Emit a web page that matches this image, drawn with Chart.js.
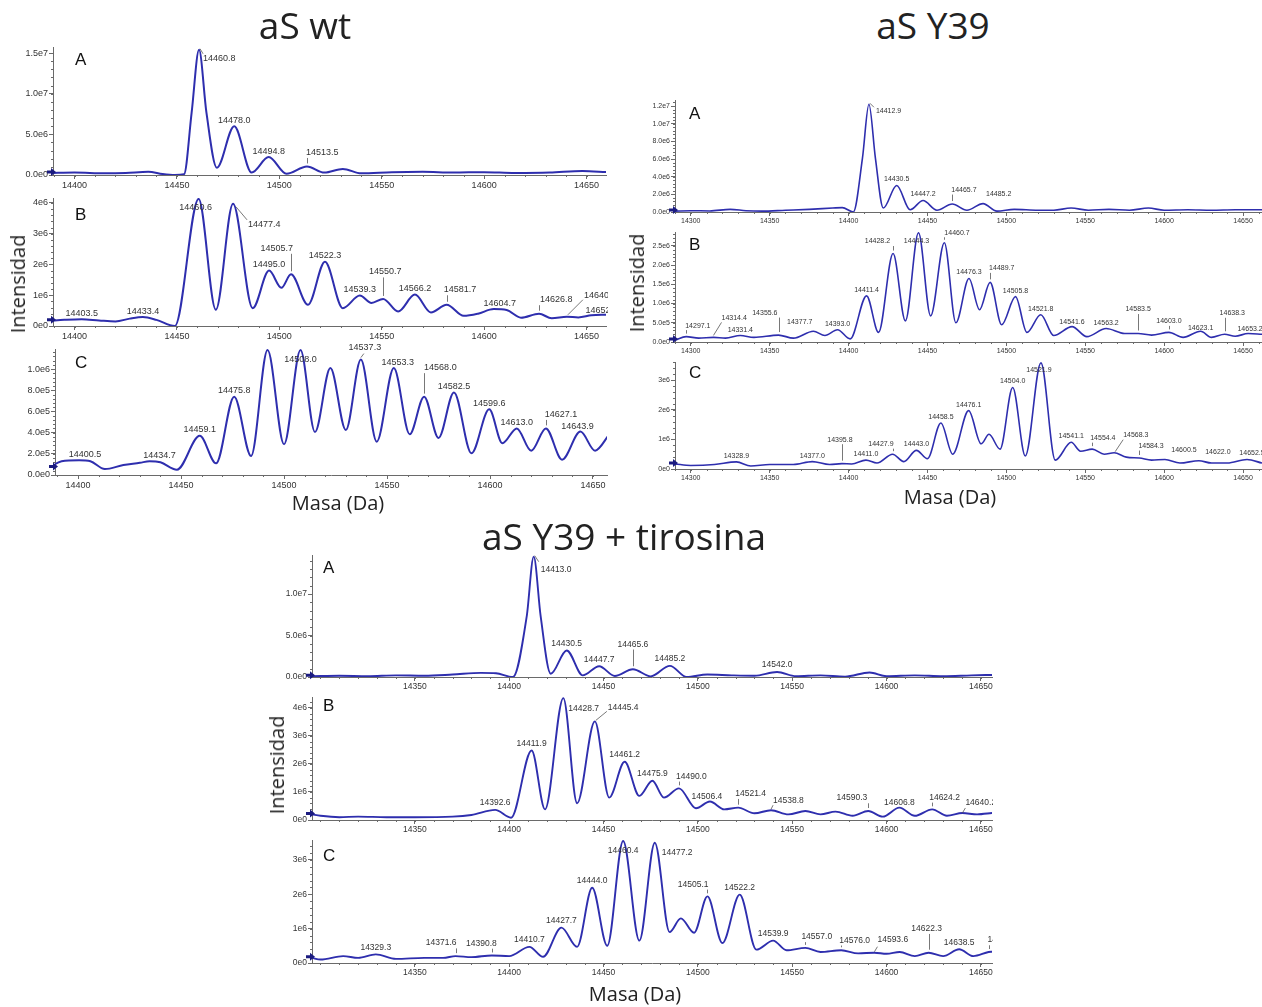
<!DOCTYPE html>
<html>
<head>
<meta charset="utf-8">
<script src="https://cdn.jsdelivr.net/npm/chart.js@4.4.1/dist/chart.umd.min.js"></script>
<style>
  body { margin: 0; background: #fff; width: 1262px; height: 1007px; position: relative; overflow: hidden; font-family: "Open Sans", sans-serif; }
  canvas { position: absolute; }
  .t { position: absolute; color: #222; white-space: nowrap; line-height: 1; transform: translate(-50%, -50%); }
  .title { font-size: 37px; }
  .ax { font-size: 20px; }
  .rot { transform: translate(-50%, -50%) rotate(-90deg); }
</style>
</head>
<body>
<div id="wrap"></div>
<div class="t title" style="left:305px;top:24px">aS wt</div>
<div class="t title" style="left:933px;top:24px">aS Y39</div>
<div class="t title" style="left:624px;top:535px">aS Y39 + tirosina</div>
<div class="t ax" style="left:338px;top:503px">Masa (Da)</div>
<div class="t ax" style="left:950px;top:497px">Masa (Da)</div>
<div class="t ax" style="left:635px;top:994px">Masa (Da)</div>
<div class="t ax rot" style="left:18px;top:284px">Intensidad</div>
<div class="t ax rot" style="left:637px;top:283px">Intensidad</div>
<div class="t ax rot" style="left:277px;top:765px">Intensidad</div>
<script>
// intensities in units of 1e6 counts, masses in Da

// ---- aS wt ----
const wtA_mass = [14388, 14400, 14415, 14425, 14436, 14443, 14449, 14453.5, 14457.2, 14460.8, 14464.4, 14469.5, 14478.0, 14486.5, 14494.8, 14503.5, 14513.5, 14522, 14531, 14540, 14555, 14570, 14585, 14600, 14615, 14632, 14648, 14660];
const wtA_int  = [0.25, 0.3, 0.2, 0.25, 0.4, 0.12, 0.0, 0.1, 7.7, 15.4, 7.7, 0.9, 6.0, 0.3, 2.2, 0.15, 1.05, 0.3, 0.75, 0.2, 0.35, 0.4, 0.3, 0.35, 0.25, 0.3, 0.5, 0.35];
const wtA_peaks = [14460.8, 14478.0, 14494.8, 14513.5];

const wtB_mass = [14388, 14395, 14403.5, 14412, 14420, 14427, 14433.4, 14440, 14449, 14460.6, 14469, 14477.4, 14487, 14495.0, 14501, 14505.7, 14514, 14522.3, 14531, 14539.3, 14545, 14550.7, 14558, 14566.2, 14574, 14581.7, 14590, 14597, 14604.7, 14611, 14618, 14626.8, 14633, 14640.4, 14646, 14652.4, 14660];
const wtB_int  = [0.17, 0.2, 0.22, 0.18, 0.15, 0.24, 0.29, 0.2, 0.0, 4.13, 0.53, 3.97, 0.58, 1.8, 1.24, 1.68, 0.69, 2.09, 0.58, 0.99, 0.75, 0.88, 0.47, 1.02, 0.44, 0.69, 0.33, 0.4, 0.55, 0.52, 0.27, 0.4, 0.25, 0.3, 0.28, 0.35, 0.37];
const wtB_peaks = [14403.5, 14433.4, 14460.6, 14477.4, 14495.0, 14505.7, 14522.3, 14539.3, 14550.7, 14566.2, 14581.7, 14604.7, 14626.8, 14640.4, 14652.4];

const wtC_mass = [14386, 14392, 14400.5, 14406, 14413, 14422, 14430, 14434.7, 14440, 14448, 14459.1, 14467, 14475.8, 14484, 14492, 14500, 14508.0, 14515, 14522.5, 14530, 14537.3, 14545, 14553.3, 14561, 14568.0, 14575, 14582.5, 14591, 14599.6, 14606, 14613.0, 14620, 14627.1, 14635, 14643.9, 14651, 14658];
const wtC_int  = [0.072, 0.13, 0.14, 0.13, 0.056, 0.094, 0.115, 0.13, 0.12, 0.05, 0.37, 0.11, 0.74, 0.18, 1.18, 0.29, 1.18, 0.406, 1.01, 0.425, 1.09, 0.315, 1.01, 0.385, 0.74, 0.35, 0.78, 0.205, 0.62, 0.30, 0.44, 0.23, 0.44, 0.145, 0.41, 0.23, 0.385];
const wtC_peaks = [14400.5, 14434.7, 14459.1, 14475.8, 14508.0, 14537.3, 14553.3, 14568.0, 14582.5, 14599.6, 14613.0, 14627.1, 14643.9];

// ---- aS Y39 ----
const y39A_mass = [14290, 14300, 14312, 14325, 14335, 14345, 14360, 14375, 14390, 14396, 14403, 14408.8, 14412.9, 14417, 14422, 14430.5, 14439, 14447.2, 14456, 14465.7, 14475, 14485.2, 14494, 14505, 14520, 14530, 14541, 14552, 14565, 14578, 14590, 14600, 14615, 14630, 14645, 14662];
const y39A_int  = [0.1, 0.15, 0.12, 0.3, 0.15, 0.1, 0.2, 0.3, 0.45, 0.5, 0.0, 6.1, 12.2, 6.1, 0.45, 3.0, 0.25, 1.3, 0.2, 0.9, 0.2, 0.95, 0.1, 0.3, 0.2, 0.2, 0.45, 0.2, 0.3, 0.2, 0.45, 0.2, 0.25, 0.2, 0.25, 0.25];
const y39A_peaks = [14412.9, 14430.5, 14447.2, 14465.7, 14485.2];

const y39B_mass = [14290, 14297.1, 14305, 14314.4, 14322, 14331.4, 14340, 14355.6, 14365, 14377.7, 14385, 14393.0, 14401, 14411.4, 14419, 14428.2, 14436, 14444.3, 14452, 14460.7, 14468, 14476.3, 14483, 14489.7, 14497, 14505.8, 14513, 14521.8, 14530, 14541.6, 14551, 14563.2, 14575, 14583.5, 14592, 14603.0, 14612, 14623.1, 14630, 14638.3, 14645, 14653.2, 14662];
const y39B_int  = [0.05, 0.14, 0.1, 0.12, 0.1, 0.17, 0.12, 0.18, 0.1, 0.28, 0.17, 0.32, 0.08, 1.2, 0.25, 2.3, 0.55, 2.84, 0.68, 2.58, 0.5, 1.65, 0.84, 1.55, 0.45, 1.18, 0.25, 0.71, 0.17, 0.4, 0.14, 0.35, 0.22, 0.22, 0.18, 0.25, 0.12, 0.28, 0.12, 0.2, 0.15, 0.22, 0.2];
const y39B_peaks = [14297.1, 14314.4, 14331.4, 14355.6, 14377.7, 14393.0, 14411.4, 14428.2, 14444.3, 14460.7, 14476.3, 14489.7, 14505.8, 14521.8, 14541.6, 14563.2, 14583.5, 14603.0, 14623.1, 14638.3, 14653.2];

const y39C_mass = [14290, 14300, 14315, 14328.9, 14338, 14350, 14365, 14377.0, 14388, 14395.8, 14402, 14411.0, 14418, 14427.9, 14435, 14443.0, 14450, 14458.5, 14466, 14476.1, 14484, 14489, 14496, 14504.0, 14512, 14521.9, 14531, 14541.1, 14547, 14554.4, 14562, 14568.3, 14576, 14584.3, 14592, 14600.5, 14610, 14622.0, 14630, 14640, 14652.5, 14662];
const y39C_int  = [0.17, 0.12, 0.15, 0.24, 0.1, 0.15, 0.15, 0.25, 0.15, 0.18, 0.17, 0.3, 0.2, 0.5, 0.25, 0.63, 0.35, 1.55, 0.5, 1.97, 0.85, 1.17, 0.67, 2.75, 0.44, 3.58, 0.3, 0.9, 0.6, 0.67, 0.5, 0.55, 0.4, 0.37, 0.3, 0.32, 0.2, 0.28, 0.2, 0.2, 0.32, 0.2];
const y39C_peaks = [14328.9, 14377.0, 14395.8, 14411.0, 14427.9, 14443.0, 14458.5, 14476.1, 14504.0, 14521.9, 14541.1, 14554.4, 14568.3, 14584.3, 14600.5, 14622.0, 14652.5];

// ---- aS Y39 + tirosina ----
const tirA_mass = [14295.5, 14310, 14325, 14340, 14355, 14370, 14385, 14393, 14402, 14409.3, 14413.0, 14416.7, 14422, 14430.5, 14439, 14447.7, 14456, 14465.6, 14475, 14485.2, 14494, 14505, 14518, 14530, 14542.0, 14552, 14565, 14578, 14591, 14600, 14615, 14630, 14645, 14656];
const tirA_int  = [0.1, 0.15, 0.1, 0.2, 0.15, 0.3, 0.5, 0.45, 0.0, 7.3, 14.5, 7.3, 0.4, 3.2, 0.2, 1.3, 0.12, 0.93, 0.08, 1.34, 0.0, 0.3, 0.2, 0.15, 0.6, 0.1, 0.2, 0.05, 0.55, 0.1, 0.2, 0.1, 0.2, 0.25];
const tirA_peaks = [14413.0, 14430.5, 14447.7, 14465.6, 14485.2, 14542.0];

const tirB_mass = [14295.5, 14300, 14310, 14320, 14335, 14350, 14370, 14380, 14392.6, 14401, 14411.9, 14419, 14428.7, 14436, 14445.4, 14453, 14461.2, 14469, 14475.9, 14482, 14490.0, 14499, 14506.4, 14514, 14521.4, 14530, 14538.8, 14548, 14557, 14565, 14573, 14582, 14590.3, 14598, 14606.8, 14615, 14624.2, 14632, 14640.2, 14648, 14656];
const tirB_int  = [0.2, 0.15, 0.1, 0.12, 0.1, 0.1, 0.12, 0.18, 0.36, 0.08, 2.48, 0.38, 4.35, 0.6, 3.52, 0.8, 2.08, 0.86, 1.4, 0.8, 1.13, 0.42, 0.66, 0.38, 0.44, 0.24, 0.35, 0.2, 0.32, 0.2, 0.3, 0.15, 0.32, 0.12, 0.44, 0.15, 0.38, 0.15, 0.25, 0.2, 0.25];
const tirB_peaks = [14392.6, 14411.9, 14428.7, 14445.4, 14461.2, 14475.9, 14490.0, 14506.4, 14521.4, 14538.8, 14590.3, 14606.8, 14624.2, 14640.2];

const tirC_mass = [14295.5, 14300, 14312, 14320, 14329.3, 14340, 14355, 14365, 14371.6, 14380, 14390.8, 14400, 14410.7, 14418, 14427.7, 14436, 14444.0, 14452, 14460.4, 14469, 14477.2, 14485, 14491, 14498, 14505.1, 14513, 14522.2, 14531, 14539.9, 14547, 14557.0, 14565, 14576.0, 14585, 14593.6, 14600, 14607, 14615, 14622.3, 14630, 14638.5, 14646, 14654.1, 14656];
const tirC_int  = [0.15, 0.1, 0.2, 0.15, 0.25, 0.12, 0.15, 0.15, 0.2, 0.17, 0.22, 0.2, 0.47, 0.18, 1.03, 0.47, 2.19, 0.5, 3.55, 0.65, 3.5, 0.9, 1.3, 0.88, 1.94, 0.58, 1.99, 0.39, 0.65, 0.37, 0.44, 0.32, 0.37, 0.28, 0.3, 0.27, 0.32, 0.2, 0.3, 0.2, 0.4, 0.2, 0.32, 0.33];
const tirC_peaks = [14329.3, 14371.6, 14390.8, 14410.7, 14427.7, 14444.0, 14460.4, 14477.2, 14505.1, 14522.2, 14539.9, 14557.0, 14576.0, 14593.6, 14622.3, 14638.5, 14654.1];

// label placement: [dx, dy, align, leader]; leader 'v' = vertical tick, array = slanted line
const wtA_nudge = { 14460.8: [4, 9, 'left', [1, -1, 4, 4]], 14513.5: [-1, -14, 'left', 'v'] };
const wtB_nudge = {
  14460.6: [-3, 9, 'center'], 14477.4: [15, 21, 'left', [3, 3, 14, 16]],
  14505.7: [2, -26, 'right', 'v'], 14550.7: [2, -27, 'center', 'v'],
  14581.7: [-3, -15, 'left', 'v'], 14604.7: [6, -6, 'center'], 14626.8: [1, -14, 'left', 'v'],
  14640.4: [17, -21, 'left', [1, -2, 16, -17]], 14652.4: [-6, -5, 'left']
};
const wtC_nudge = {
  14400.5: [6, -6, 'center'], 14434.7: [10, -6, 'center'],
  14508.0: [0, 9, 'center'], 14537.3: [4, -12, 'center', [0, -2, 3, -6]],
  14553.3: [4, -6, 'center'], 14568.0: [0, -29, 'left', 'v'], 14627.1: [-1, -14, 'left', 'v'],
  14643.9: [-3, -5, 'center']
};
const y39A_nudge = { 14412.9: [7, 7, 'left', [1, -1, 5, 3]], 14465.7: [-1, -14, 'left', 'v'], 14485.2: [3, -10, 'left'] };
const y39B_nudge = {
  14297.1: [-1, -11, 'left', 'v'], 14314.4: [8, -19, 'left', [0, -2, 8, -15]], 14331.4: [0, -5, 'center'],
  14355.6: [-1, -22, 'right', 'v'], 14377.7: [-1, -9, 'right'], 14428.2: [-3, -12, 'right', 'v'],
  14444.3: [-2, 8, 'center'], 14460.7: [0, -10, 'left', 'v'], 14489.7: [-1, -14, 'left', 'v'],
  14541.6: [0, -5, 'center'], 14563.2: [0, -5, 'center'], 14583.5: [0, -24, 'center', 'v'],
  14603.0: [0, -11, 'center', 'v'], 14623.1: [0, -3, 'center'], 14638.3: [-5, -21, 'left', 'v'], 14653.2: [2, -4, 'center']
};
const y39C_nudge = {
  14395.8: [-2, -24, 'center', 'v'], 14427.9: [1, -10, 'right', 'v'], 14521.9: [-2, 7, 'center'],
  14554.4: [-2, -11, 'left', 'v'], 14568.3: [9, -18, 'left', [1, -1, 9, -13]], 14584.3: [-1, -12, 'left', 'v'],
  14600.5: [19, -9, 'center'], 14622.0: [19, -9, 'center'], 14652.5: [5, -6, 'center']
};
const tirA_nudge = { 14413.0: [7, 13, 'left', [1, -1, 5, 5]], 14465.6: [0, -25, 'center', 'v'] };
const tirB_nudge = {
  14428.7: [5, 11, 'left'], 14445.4: [13, -14, 'left', [1, -1, 12, -10]], 14490.0: [-3, -12, 'left', 'v'],
  14506.4: [-3, -5, 'center'], 14521.4: [-3, -14, 'left', 'v'], 14538.8: [2, -10, 'left', [0, -1, 2, -5]],
  14590.3: [-1, -13, 'right', 'v'], 14606.8: [0, -5, 'center'], 14624.2: [-3, -12, 'left', 'v'],
  14640.2: [3, -10, 'left', [0, 0, 3, -5]]
};
const tirC_nudge = {
  14371.6: [1, -13, 'right', 'v'], 14390.8: [5, -12, 'right', 'v'], 14460.4: [0, 10, 'center'],
  14477.2: [7, 10, 'left'], 14505.1: [1, -12, 'right', 'v'], 14557.0: [-4, -11, 'left', 'v'],
  14576.0: [-2, -10, 'left', 'v'], 14593.6: [3, -13, 'left', [0, -1, 3, -6]], 14622.3: [-2, -24, 'center', 'v'],
  14654.1: [-1, -12, 'left', 'v']
};

const LINE = '#2e2eae';
const AXIS = '#6a6a6a';
const TEXT = '#333';
const PT = 26, XH = 18;

const G1 = { fs: 9, lw: 2, yw: 50, pr: 2, dy: -6 };
const G2 = { fs: 7, lw: 1.6, yw: 45, pr: 0, dy: -6 };
const G3 = { fs: 8.5, lw: 1.9, yw: 45, pr: 1, dy: -7 };

const panels = [
  { m: wtA_mass, v: wtA_int, pk: wtA_peaks, nd: wtA_nudge, box: [53, 47, 606, 175], x: [14389.5, 14659.5], yMax: 15.74, step: 5, dec: 1, g: G1, tag: 'A', tp: [22, 13] },
  { m: wtB_mass, v: wtB_int, pk: wtB_peaks, nd: wtB_nudge, box: [53, 198, 606, 326], x: [14389.5, 14659.5], yMax: 4.16, step: 1, dec: 0, g: G1, tag: 'B', tp: [22, 17] },
  { m: wtC_mass, v: wtC_int, pk: wtC_peaks, nd: wtC_nudge, box: [55, 349, 607, 475], x: [14388.8, 14656.8], yMax: 1.19, step: 0.2, dec: 1, g: G1, tag: 'C', tp: [20, 14] },
  { m: y39A_mass, v: y39A_int, pk: y39A_peaks, nd: y39A_nudge, box: [675, 100, 1262, 212], x: [14290, 14662], yMax: 12.68, step: 2, dec: 1, g: G2, tag: 'A', tp: [14, 14] },
  { m: y39B_mass, v: y39B_int, pk: y39B_peaks, nd: y39B_nudge, box: [675, 232, 1262, 342], x: [14290, 14662], yMax: 2.86, step: 0.5, dec: 1, g: G2, tag: 'B', tp: [14, 13] },
  { m: y39C_mass, v: y39C_int, pk: y39C_peaks, nd: y39C_nudge, box: [675, 362, 1262, 469], x: [14290, 14662], yMax: 3.61, step: 1, dec: 0, g: G2, tag: 'C', tp: [14, 11] },
  { m: tirA_mass, v: tirA_int, pk: tirA_peaks, nd: tirA_nudge, box: [312, 555, 992, 677], x: [14295.5, 14655.9], yMax: 14.7, step: 5, dec: 1, g: G3, tag: 'A', tp: [11, 13] },
  { m: tirB_mass, v: tirB_int, pk: tirB_peaks, nd: tirB_nudge, box: [312, 697, 992, 820], x: [14295.5, 14655.9], yMax: 4.39, step: 1, dec: 0, g: G3, tag: 'B', tp: [11, 9] },
  { m: tirC_mass, v: tirC_int, pk: tirC_peaks, nd: tirC_nudge, box: [312, 840, 992, 963], x: [14295.5, 14655.9], yMax: 3.58, step: 1, dec: 0, g: G3, tag: 'C', tp: [11, 16] }
];

function overlay(p) {
  return {
    id: 'overlay',
    afterDatasetsDraw(chart) {
      const ctx = chart.ctx, xs = chart.scales.x, ys = chart.scales.y, a = chart.chartArea;
      const fs = p.g.fs;
      ctx.save();

      // minor ticks
      ctx.strokeStyle = AXIS;
      ctx.lineWidth = 1;
      ctx.beginPath();
      for (let k = Math.ceil(p.x[0] / 10); k * 10 <= p.x[1]; k++) {
        const px = Math.round(xs.getPixelForValue(k * 10)) + 0.5;
        ctx.moveTo(px, a.bottom);
        ctx.lineTo(px, a.bottom + 2);
      }
      const minor = p.step / 5;
      for (let k = 0; k * minor <= p.yMax; k++) {
        const py = Math.round(ys.getPixelForValue(k * minor)) + 0.5;
        ctx.moveTo(a.left - 2, py);
        ctx.lineTo(a.left, py);
      }
      ctx.stroke();

      // start marker on the baseline
      const ay = ys.getPixelForValue(p.v[0]) - 1, ax = a.left - 6;
      ctx.fillStyle = '#1b1b80';
      ctx.beginPath();
      ctx.moveTo(ax, ay - 1.5);
      ctx.lineTo(ax + 4, ay - 1.5);
      ctx.lineTo(ax + 4, ay - 4);
      ctx.lineTo(ax + 9, ay);
      ctx.lineTo(ax + 4, ay + 4);
      ctx.lineTo(ax + 4, ay + 1.5);
      ctx.lineTo(ax, ay + 1.5);
      ctx.closePath();
      ctx.fill();

      // panel letter
      ctx.fillStyle = '#111';
      ctx.font = '17px "Liberation Sans", Arial, sans-serif';
      ctx.textAlign = 'left';
      ctx.textBaseline = 'middle';
      ctx.fillText(p.tag, a.left + p.tp[0], a.top + p.tp[1]);

      // peak labels
      ctx.font = fs + 'px "Liberation Sans", Arial, sans-serif';
      ctx.fillStyle = TEXT;
      ctx.strokeStyle = '#555';
      ctx.lineWidth = 0.8;
      p.pk.forEach(mass => {
        const i = p.m.indexOf(mass);
        const px = xs.getPixelForValue(mass), py = ys.getPixelForValue(p.v[i]);
        const [dx, dy, align, lead] = p.nd[mass] || [0, p.g.dy, 'center'];
        ctx.textAlign = align || 'center';
        ctx.fillText(mass.toFixed(1), px + dx, py + dy);
        if (lead === 'v') {
          ctx.beginPath();
          ctx.moveTo(Math.round(px) + 0.5, py + dy + fs / 2 + 1);
          ctx.lineTo(Math.round(px) + 0.5, py - 3);
          ctx.stroke();
        } else if (Array.isArray(lead)) {
          ctx.beginPath();
          ctx.moveTo(px + lead[0], py + lead[1]);
          ctx.lineTo(px + lead[2], py + lead[3]);
          ctx.stroke();
        }
      });
      ctx.restore();
    }
  };
}

const wrap = document.getElementById('wrap');

panels.forEach(p => {
  const [L, T, R, B] = p.box;
  const g = p.g;
  const cv = document.createElement('canvas');
  const w = R - L + g.yw + g.pr, h = B - T + PT + XH;
  cv.width = w; cv.height = h;
  cv.style.left = (L - g.yw) + 'px';
  cv.style.top = (T - PT) + 'px';
  cv.style.width = w + 'px';
  cv.style.height = h + 'px';
  wrap.appendChild(cv);

  const tickFont = { family: '"Liberation Sans", Arial, sans-serif', size: g.fs };

  new Chart(cv, {
    type: 'line',
    data: {
      datasets: [{
        data: p.m.map((m, i) => ({ x: m, y: p.v[i] })),
        borderColor: LINE,
        borderWidth: g.lw,
        pointRadius: 0,
        cubicInterpolationMode: 'monotone',
        fill: false
      }]
    },
    options: {
      responsive: false,
      maintainAspectRatio: false,
      devicePixelRatio: 1,
      animation: false,
      layout: { padding: { top: PT, right: g.pr, left: 0, bottom: 0 } },
      plugins: { legend: { display: false }, tooltip: { enabled: false } },
      scales: {
        x: {
          type: 'linear',
          min: p.x[0],
          max: p.x[1],
          border: { display: true, color: AXIS, width: 1 },
          grid: { display: true, drawOnChartArea: false, drawTicks: true, tickLength: 4, color: AXIS },
          ticks: { stepSize: 50, includeBounds: false, autoSkip: false, maxRotation: 0, padding: 1, color: TEXT, font: tickFont, callback: v => String(v) },
          afterBuildTicks: s => { s.ticks = s.ticks.filter(t => t.value - s.min > 6); },
          afterFit: s => { s.height = XH; s.paddingLeft = 0; s.paddingRight = 0; }
        },
        y: {
          type: 'linear',
          min: 0,
          max: p.yMax,
          border: { display: true, color: AXIS, width: 1 },
          grid: { display: true, drawOnChartArea: false, drawTicks: true, tickLength: 4, color: AXIS },
          ticks: {
            stepSize: p.step, includeBounds: false, padding: 1, color: TEXT, font: tickFont,
            callback: v => (v * 1e6).toExponential(p.dec).replace('e+', 'e')
          },
          afterFit: s => { s.width = g.yw; s.paddingTop = 0; s.paddingBottom = 0; }
        }
      }
    },
    plugins: [overlay(p)]
  });
});
</script>
</body>
</html>
